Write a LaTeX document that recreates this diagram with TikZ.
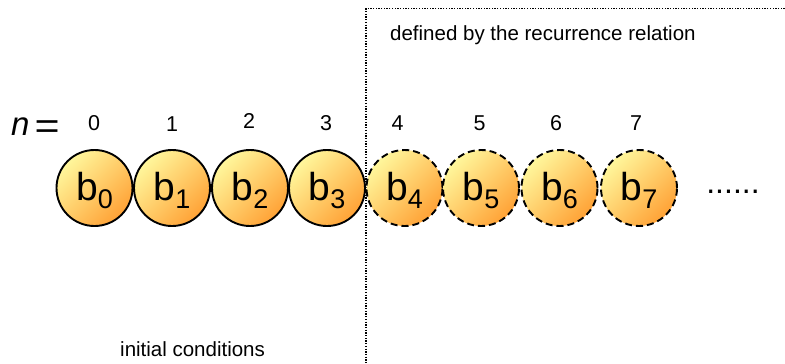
\documentclass[tikz,border=0pt]{standalone}
\usepackage{fontspec}
\setmainfont{Liberation Sans}
\definecolor{ballhi}{HTML}{FFF79C}
\definecolor{ballmid}{HTML}{FFD874}
\definecolor{balllo}{HTML}{FFA236}
\tikzset{
  ball/.style={circle, draw=black, line width=1.9pt, minimum size=76pt, inner sep=0pt,
    shading=axis, top color=ballhi, middle color=ballmid, bottom color=balllo, shading angle=45},
  ballsolid/.style={ball},
  balldashed/.style={ball, dash pattern=on 7pt off 4pt},
  blabel/.style={anchor=base, inner sep=0pt, font=\fontsize{39}{39}\selectfont},
  idx/.style={anchor=base, inner sep=0pt, font=\fontsize{21.5}{21.5}\selectfont},
  caption/.style={anchor=base west, inner sep=0pt, font=\fontsize{20.5}{20.5}\selectfont},
  region/.style={line width=1.5pt, dash pattern=on 1.3pt off 1.4pt}
}
\newcommand{\bsub}[1]{b\raisebox{-8pt}{\fontsize{27}{27}\selectfont #1}}
\begin{document}
\begin{tikzpicture}[x=1pt,y=-1pt]
\useasboundingbox (0,0) rectangle (785,364);
% region of recurrence
\coordinate (rtl) at (366,8.5);
\coordinate (rtr) at (790,8.5);
\coordinate (rbl) at (366,370);
\draw[region] (rtr) -- (rtl) -- (rbl);
% balls
\foreach \i/\x in {0/94.5,1/172,2/250,3/327}{
  \node[ballsolid] (b\i) at (\x,188) {};
  \node[blabel] (l\i) at ([yshift=-12pt]b\i.center) {\bsub{\i}};
}
\foreach \i/\x in {4/404.5,5/481,6/559.5,7/639}{
  \node[balldashed] (b\i) at (\x,188) {};
  \node[blabel] (l\i) at ([yshift=-12pt]b\i.center) {\bsub{\i}};
}
% indices
\foreach \i/\x/\y in {0/94/130,1/172/131.5,2/249/128.5,3/326/130,4/397.5/130,5/479.5/130,6/556/130,7/636/130}{
  \node[idx] (n\i) at (\x,\y) {\i};
}
\node[anchor=base west, inner sep=0pt, font=\fontsize{33}{33}\selectfont] (neq) at (11,135)
  {\textit{n}\hspace{5pt}\raisebox{-3pt}{\scalebox{1.3}[1.1]{=}}};
\node[anchor=base, inner sep=0pt, font=\fontsize{32}{32}\selectfont] (dots) at (733,193) {......};
\node[caption] (rec) at (390,40) {defined by the recurrence relation};
\node[caption] (init) at (120,356) {initial conditions};
\end{tikzpicture}
\end{document}
